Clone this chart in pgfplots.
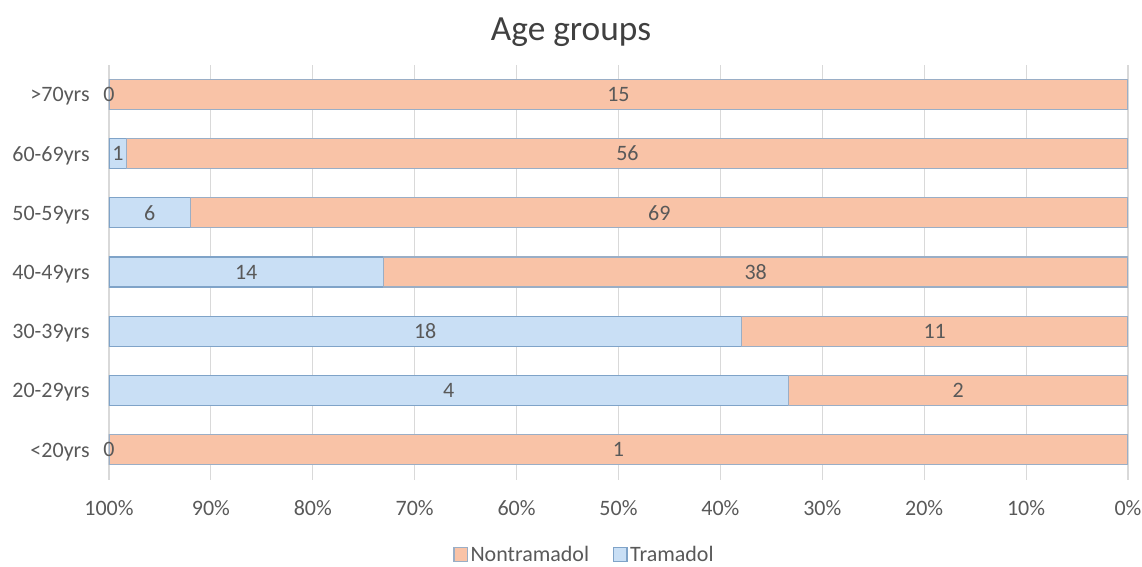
\documentclass[border=0pt]{standalone}
\usepackage{fontspec}
\setmainfont{Carlito}
\usepackage{pgfplots}
\usepackage{pgfplotstable}
\pgfplotsset{compat=1.18}
\definecolor{tram}{HTML}{C9DFF5}
\definecolor{tramE}{HTML}{7FA3C8}
\definecolor{non}{HTML}{F9C3A7}
\definecolor{nonE}{HTML}{9AAEC6}
\definecolor{txt}{HTML}{595959}
\pgfplotstableread{
idx tram non ptram pnon
0 0 1 0 100
1 4 2 66.667 33.333
2 18 11 62.069 37.931
3 14 38 26.923 73.077
4 6 69 8 92
5 1 56 1.754 98.246
6 0 15 0 100
}\agedata
\begin{document}
\begin{tikzpicture}
\begin{axis}[
  name=ax,
  scale only axis,
  width=764.25pt, height=311.25pt,
  xmin=0, xmax=100, ymin=-0.5, ymax=6.5,
  x dir=reverse,
  xtick={0,10,20,30,40,50,60,70,80,90,100},
  xticklabels={0\%,10\%,20\%,30\%,40\%,50\%,60\%,70\%,80\%,90\%,100\%},
  ytick={0,1,2,3,4,5,6},
  yticklabels={<20yrs,20-29yrs,30-39yrs,40-49yrs,50-59yrs,60-69yrs,>70yrs},
  xmajorgrids, grid style={draw=black!15, line width=0.8pt},
  axis line style={draw=none},
  major tick style={draw=none},
  tick label style={font=\fontsize{16.5}{19}\selectfont, text=txt},
  xticklabel style={anchor=base, yshift=-27pt},
  yticklabel style={anchor=east, xshift=-11pt, yshift=-1.5pt},
  title={Age groups},
  title style={font=\fontsize{26.5}{30}\selectfont, text=black!75, at={(0.4534,1)}, anchor=base, yshift=12pt},
  legend style={at={(0.467,0)}, anchor=center, yshift=-56.25pt, draw=none, fill=none,
    legend columns=2, font=\fontsize{16.5}{19}\selectfont, text=txt,
    /tikz/every even column/.append style={column sep=16pt}},
  legend image code/.code={\draw[#1] (0pt,-5pt) rectangle (10pt,5pt);},
]
\addplot[xbar, bar width=22.5pt, fill=tram, draw=tramE, line width=0.8pt, forget plot]
  table[x expr=\thisrow{ptram}+\thisrow{pnon}, y=idx] {\agedata};
\addplot[xbar, bar width=22.5pt, fill=non, draw=nonE, line width=0.8pt, forget plot]
  table[x=pnon, y=idx] {\agedata};
\addplot[draw=none, mark=none, forget plot, nodes near coords, point meta=explicit symbolic,
  nodes near coords style={anchor=center, font=\fontsize{16.5}{19}\selectfont, text=txt}]
  table[x expr=100-\thisrow{ptram}/2, y=idx, meta=tram] {\agedata};
\addplot[draw=none, mark=none, forget plot, nodes near coords, point meta=explicit symbolic,
  nodes near coords style={anchor=center, font=\fontsize{16.5}{19}\selectfont, text=txt}]
  table[x expr=\thisrow{pnon}/2, y=idx, meta=non] {\agedata};
\addlegendimage{fill=non, draw=nonE, line width=0.8pt}
\addlegendentry{Nontramadol}
\addlegendimage{fill=tram, draw=tramE, line width=0.8pt}
\addlegendentry{Tramadol}
\end{axis}
\pgfresetboundingbox
\path[use as bounding box] ([xshift=-81.75pt,yshift=-65.25pt]ax.south west) rectangle ([xshift=10.5pt,yshift=48.375pt]ax.north east);
\end{tikzpicture}
\end{document}
